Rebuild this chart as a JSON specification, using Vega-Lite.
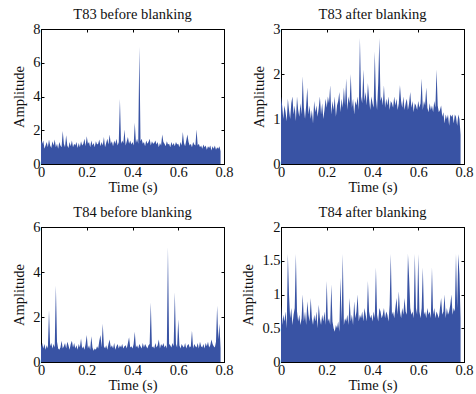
{
"$schema":"https://vega.github.io/schema/vega-lite/v6.json",
"padding":{"left":11,"top":6,"right":0,"bottom":0},
"config":{
 "font":"Liberation Serif, DejaVu Serif, serif",
 "view":{"stroke":"#000","strokeWidth":1},
 "axis":{"domainColor":"#000","tickColor":"#000","tickSize":-3,"labelFont":"Liberation Serif, DejaVu Serif, serif","labelFontSize":14.5,"labelColor":"#111","titleFont":"Liberation Serif, DejaVu Serif, serif","titleFontSize":14.5,"titleFontWeight":"normal","titleColor":"#111","grid":false,"labelPadding":4,"labelFlush":false,"labelOverlap":false},
 "axisY":{"titlePadding":6},
 "axisX":{"titlePadding":2},
 "title":{"font":"Liberation Serif, DejaVu Serif, serif","fontSize":14.5,"fontWeight":"normal","color":"#111","offset":-1}
},
"data":{"values":[
{"t":0,"p1":1.5,"p2":1.5,"p3":0.65,"p4":0.85},
{"t":0.005,"p1":1.2,"p2":1.3,"p3":0.85,"p4":0.55},
{"t":0.01,"p1":1.4,"p2":1.0,"p3":0.6,"p4":0.7},
{"t":0.015,"p1":0.9,"p2":1.3,"p3":0.8,"p4":0.6},
{"t":0.02,"p1":1.1,"p2":1.15,"p3":0.55,"p4":0.75},
{"t":0.025,"p1":1.3,"p2":0.95,"p3":0.75,"p4":0.5},
{"t":0.03,"p1":1.0,"p2":1.45,"p3":0.6,"p4":1.6},
{"t":0.035,"p1":1.45,"p2":1.2,"p3":2.3,"p4":1.0},
{"t":0.04,"p1":1.1,"p2":1.0,"p3":0.7,"p4":0.65},
{"t":0.045,"p1":0.95,"p2":1.35,"p3":0.85,"p4":0.8},
{"t":0.05,"p1":1.35,"p2":1.5,"p3":0.6,"p4":0.55},
{"t":0.055,"p1":1.1,"p2":1.1,"p3":0.8,"p4":0.7},
{"t":0.06,"p1":1.45,"p2":1.3,"p3":0.65,"p4":0.8},
{"t":0.065,"p1":1.0,"p2":0.95,"p3":3.4,"p4":1.6},
{"t":0.07,"p1":1.2,"p2":1.5,"p3":0.9,"p4":0.75},
{"t":0.075,"p1":0.9,"p2":1.2,"p3":0.6,"p4":0.6},
{"t":0.08,"p1":1.3,"p2":1.05,"p3":0.55,"p4":0.7},
{"t":0.085,"p1":1.1,"p2":1.35,"p3":0.65,"p4":0.55},
{"t":0.09,"p1":1.0,"p2":1.1,"p3":0.95,"p4":0.65},
{"t":0.095,"p1":1.95,"p2":1.95,"p3":0.6,"p4":1.0},
{"t":0.1,"p1":1.2,"p2":1.25,"p3":0.7,"p4":0.6},
{"t":0.105,"p1":1.0,"p2":1.0,"p3":0.85,"p4":0.75},
{"t":0.11,"p1":1.7,"p2":1.3,"p3":0.6,"p4":0.55},
{"t":0.115,"p1":1.1,"p2":1.7,"p3":0.9,"p4":0.9},
{"t":0.12,"p1":0.95,"p2":1.1,"p3":0.75,"p4":0.7},
{"t":0.125,"p1":1.3,"p2":1.3,"p3":0.55,"p4":0.6},
{"t":0.13,"p1":1.05,"p2":1.0,"p3":0.8,"p4":0.95},
{"t":0.135,"p1":1.4,"p2":1.2,"p3":0.95,"p4":0.65},
{"t":0.14,"p1":1.0,"p2":0.9,"p3":0.65,"p4":0.55},
{"t":0.145,"p1":1.2,"p2":1.4,"p3":0.85,"p4":0.7},
{"t":0.15,"p1":1.1,"p2":1.15,"p3":0.6,"p4":0.6},
{"t":0.155,"p1":1.3,"p2":1.3,"p3":0.75,"p4":0.75},
{"t":0.16,"p1":0.95,"p2":1.05,"p3":0.55,"p4":0.5},
{"t":0.165,"p1":1.25,"p2":1.25,"p3":0.8,"p4":0.85},
{"t":0.17,"p1":1.0,"p2":1.5,"p3":0.65,"p4":0.65},
{"t":0.175,"p1":1.35,"p2":1.1,"p3":1.05,"p4":0.55},
{"t":0.18,"p1":1.1,"p2":1.35,"p3":0.6,"p4":0.7},
{"t":0.185,"p1":1.2,"p2":1.0,"p3":0.7,"p4":0.6},
{"t":0.19,"p1":1.5,"p2":1.2,"p3":0.55,"p4":0.75},
{"t":0.195,"p1":1.05,"p2":1.45,"p3":0.8,"p4":0.55},
{"t":0.2,"p1":1.65,"p2":1.25,"p3":1.2,"p4":1.2},
{"t":0.205,"p1":1.2,"p2":1.5,"p3":0.6,"p4":0.6},
{"t":0.21,"p1":1.3,"p2":1.35,"p3":0.75,"p4":0.65},
{"t":0.215,"p1":1.0,"p2":1.75,"p3":0.55,"p4":0.55},
{"t":0.22,"p1":1.4,"p2":1.1,"p3":1.15,"p4":1.15},
{"t":0.225,"p1":1.1,"p2":1.4,"p3":0.65,"p4":0.6},
{"t":0.23,"p1":1.25,"p2":1.2,"p3":0.5,"p4":0.5},
{"t":0.235,"p1":1.0,"p2":1.5,"p3":0.6,"p4":0.45},
{"t":0.24,"p1":1.35,"p2":1.05,"p3":0.55,"p4":0.55},
{"t":0.245,"p1":1.15,"p2":1.3,"p3":0.7,"p4":0.5},
{"t":0.25,"p1":1.2,"p2":1.4,"p3":0.6,"p4":0.6},
{"t":0.255,"p1":1.45,"p2":1.6,"p3":0.95,"p4":0.45},
{"t":0.26,"p1":1.05,"p2":1.15,"p3":1.2,"p4":1.25},
{"t":0.265,"p1":1.3,"p2":1.45,"p3":0.65,"p4":0.6},
{"t":0.27,"p1":1.1,"p2":1.25,"p3":1.7,"p4":1.6},
{"t":0.275,"p1":1.6,"p2":1.7,"p3":0.7,"p4":0.55},
{"t":0.28,"p1":1.0,"p2":1.3,"p3":0.6,"p4":0.65},
{"t":0.285,"p1":1.25,"p2":1.9,"p3":0.75,"p4":0.6},
{"t":0.29,"p1":1.5,"p2":1.2,"p3":0.55,"p4":0.7},
{"t":0.295,"p1":1.15,"p2":1.5,"p3":0.8,"p4":0.55},
{"t":0.3,"p1":1.75,"p2":1.35,"p3":1.0,"p4":0.95},
{"t":0.305,"p1":1.2,"p2":2.0,"p3":0.65,"p4":0.6},
{"t":0.31,"p1":1.35,"p2":1.25,"p3":0.75,"p4":0.7},
{"t":0.315,"p1":1.05,"p2":1.45,"p3":0.6,"p4":0.55},
{"t":0.32,"p1":1.4,"p2":1.1,"p3":0.85,"p4":0.9},
{"t":0.325,"p1":1.2,"p2":1.4,"p3":0.55,"p4":0.65},
{"t":0.33,"p1":1.5,"p2":1.3,"p3":0.7,"p4":0.75},
{"t":0.335,"p1":1.1,"p2":1.5,"p3":0.8,"p4":1.0},
{"t":0.34,"p1":1.3,"p2":1.2,"p3":0.6,"p4":0.6},
{"t":0.345,"p1":3.85,"p2":2.8,"p3":0.75,"p4":0.7},
{"t":0.35,"p1":1.2,"p2":1.5,"p3":0.65,"p4":0.65},
{"t":0.355,"p1":1.4,"p2":1.35,"p3":0.8,"p4":0.75},
{"t":0.36,"p1":1.25,"p2":2.1,"p3":0.6,"p4":0.6},
{"t":0.365,"p1":2.05,"p2":1.4,"p3":0.7,"p4":0.8},
{"t":0.37,"p1":1.1,"p2":1.6,"p3":0.75,"p4":0.7},
{"t":0.375,"p1":1.35,"p2":1.3,"p3":0.6,"p4":0.6},
{"t":0.38,"p1":1.6,"p2":1.8,"p3":0.85,"p4":1.2},
{"t":0.385,"p1":1.2,"p2":1.45,"p3":1.1,"p4":0.75},
{"t":0.39,"p1":1.4,"p2":1.2,"p3":0.65,"p4":0.65},
{"t":0.395,"p1":1.15,"p2":1.5,"p3":0.7,"p4":0.7},
{"t":0.4,"p1":1.3,"p2":1.35,"p3":0.6,"p4":0.6},
{"t":0.405,"p1":1.1,"p2":1.25,"p3":0.8,"p4":0.75},
{"t":0.41,"p1":2.45,"p2":2.5,"p3":1.35,"p4":0.65},
{"t":0.415,"p1":1.25,"p2":1.45,"p3":0.65,"p4":1.4},
{"t":0.42,"p1":1.5,"p2":1.2,"p3":0.75,"p4":0.7},
{"t":0.425,"p1":1.2,"p2":1.8,"p3":0.6,"p4":0.6},
{"t":0.43,"p1":6.95,"p2":2.8,"p3":0.8,"p4":0.8},
{"t":0.435,"p1":1.35,"p2":1.4,"p3":0.7,"p4":0.75},
{"t":0.44,"p1":1.5,"p2":1.5,"p3":0.6,"p4":0.65},
{"t":0.445,"p1":1.2,"p2":1.3,"p3":0.85,"p4":0.7},
{"t":0.45,"p1":1.3,"p2":1.75,"p3":0.65,"p4":0.8},
{"t":0.455,"p1":1.05,"p2":1.25,"p3":0.8,"p4":0.65},
{"t":0.46,"p1":1.4,"p2":1.45,"p3":0.7,"p4":0.75},
{"t":0.465,"p1":1.2,"p2":1.3,"p3":0.6,"p4":0.7},
{"t":0.47,"p1":1.3,"p2":1.5,"p3":0.75,"p4":0.6},
{"t":0.475,"p1":1.5,"p2":1.2,"p3":0.8,"p4":0.85},
{"t":0.48,"p1":1.1,"p2":1.4,"p3":2.65,"p4":1.6},
{"t":0.485,"p1":1.35,"p2":1.35,"p3":0.65,"p4":0.7},
{"t":0.49,"p1":1.2,"p2":1.25,"p3":0.7,"p4":0.75},
{"t":0.495,"p1":1.25,"p2":1.5,"p3":0.6,"p4":0.65},
{"t":0.5,"p1":1.4,"p2":1.3,"p3":0.85,"p4":0.8},
{"t":0.505,"p1":1.15,"p2":1.45,"p3":0.65,"p4":0.95},
{"t":0.51,"p1":1.3,"p2":1.2,"p3":0.75,"p4":0.7},
{"t":0.515,"p1":1.0,"p2":1.35,"p3":1.0,"p4":1.05},
{"t":0.52,"p1":1.25,"p2":1.75,"p3":0.6,"p4":0.75},
{"t":0.525,"p1":1.1,"p2":1.4,"p3":0.8,"p4":0.65},
{"t":0.53,"p1":1.75,"p2":1.25,"p3":0.7,"p4":0.8},
{"t":0.535,"p1":1.3,"p2":1.5,"p3":0.85,"p4":0.7},
{"t":0.54,"p1":1.2,"p2":1.2,"p3":0.65,"p4":0.95},
{"t":0.545,"p1":1.05,"p2":1.35,"p3":0.75,"p4":0.75},
{"t":0.55,"p1":1.35,"p2":1.45,"p3":0.6,"p4":0.7},
{"t":0.555,"p1":1.15,"p2":1.2,"p3":5.1,"p4":1.6},
{"t":0.56,"p1":1.2,"p2":1.35,"p3":0.8,"p4":1.25},
{"t":0.565,"p1":1.0,"p2":1.6,"p3":0.75,"p4":0.8},
{"t":0.57,"p1":1.3,"p2":1.25,"p3":0.65,"p4":0.7},
{"t":0.575,"p1":1.1,"p2":1.4,"p3":0.85,"p4":0.75},
{"t":0.58,"p1":1.25,"p2":1.15,"p3":0.7,"p4":0.65},
{"t":0.585,"p1":1.05,"p2":1.35,"p3":3.1,"p4":1.6},
{"t":0.59,"p1":1.3,"p2":1.3,"p3":0.8,"p4":0.8},
{"t":0.595,"p1":1.15,"p2":1.2,"p3":0.65,"p4":0.7},
{"t":0.6,"p1":1.2,"p2":1.4,"p3":1.9,"p4":1.6},
{"t":0.605,"p1":1.0,"p2":1.25,"p3":0.75,"p4":0.75},
{"t":0.61,"p1":1.3,"p2":1.35,"p3":0.6,"p4":0.65},
{"t":0.615,"p1":1.1,"p2":1.9,"p3":0.8,"p4":0.8},
{"t":0.62,"p1":1.9,"p2":1.2,"p3":0.7,"p4":1.4},
{"t":0.625,"p1":1.25,"p2":1.4,"p3":0.65,"p4":0.7},
{"t":0.63,"p1":1.05,"p2":1.3,"p3":0.85,"p4":0.75},
{"t":0.635,"p1":1.4,"p2":1.7,"p3":0.6,"p4":0.65},
{"t":0.64,"p1":1.75,"p2":1.25,"p3":0.75,"p4":0.8},
{"t":0.645,"p1":1.3,"p2":1.15,"p3":0.8,"p4":0.7},
{"t":0.65,"p1":1.1,"p2":1.35,"p3":0.65,"p4":0.75},
{"t":0.655,"p1":1.2,"p2":1.2,"p3":0.7,"p4":0.65},
{"t":0.66,"p1":1.0,"p2":1.3,"p3":1.4,"p4":1.4},
{"t":0.665,"p1":1.3,"p2":1.15,"p3":0.6,"p4":0.7},
{"t":0.67,"p1":1.15,"p2":1.4,"p3":0.8,"p4":0.8},
{"t":0.675,"p1":1.1,"p2":1.25,"p3":0.7,"p4":0.65},
{"t":0.68,"p1":2.05,"p2":2.1,"p3":0.65,"p4":0.75},
{"t":0.685,"p1":1.1,"p2":1.3,"p3":0.85,"p4":0.7},
{"t":0.69,"p1":1.2,"p2":1.15,"p3":0.6,"p4":0.65},
{"t":0.695,"p1":1.0,"p2":1.2,"p3":0.9,"p4":0.8},
{"t":0.7,"p1":1.1,"p2":1.3,"p3":0.7,"p4":0.95},
{"t":0.705,"p1":0.9,"p2":1.05,"p3":0.65,"p4":0.7},
{"t":0.71,"p1":1.15,"p2":1.15,"p3":0.8,"p4":0.75},
{"t":0.715,"p1":1.0,"p2":0.9,"p3":0.6,"p4":1.0},
{"t":0.72,"p1":1.1,"p2":1.1,"p3":0.85,"p4":0.65},
{"t":0.725,"p1":0.85,"p2":1.0,"p3":0.7,"p4":0.8},
{"t":0.73,"p1":1.05,"p2":1.1,"p3":0.9,"p4":0.7},
{"t":0.735,"p1":0.95,"p2":0.85,"p3":0.65,"p4":0.75},
{"t":0.74,"p1":1.1,"p2":1.1,"p3":0.75,"p4":0.85},
{"t":0.745,"p1":0.8,"p2":1.05,"p3":1.0,"p4":1.0},
{"t":0.75,"p1":1.05,"p2":1.1,"p3":0.8,"p4":0.7},
{"t":0.755,"p1":0.9,"p2":0.9,"p3":0.7,"p4":0.8},
{"t":0.76,"p1":1.1,"p2":1.1,"p3":0.65,"p4":0.75},
{"t":0.765,"p1":0.85,"p2":1.05,"p3":0.9,"p4":1.6},
{"t":0.77,"p1":1.0,"p2":0.85,"p3":2.5,"p4":0.8},
{"t":0.775,"p1":0.9,"p2":1.1,"p3":1.0,"p4":1.6},
{"t":0.78,"p1":1.05,"p2":1.0,"p3":1.7,"p4":1.3},
{"t":0.785,"p1":0.75,"p2":0.65,"p3":0.6,"p4":0.65}
]},
"vconcat":[
 {"hconcat":[
  {"width":183,"height":135,"title":"T83 before blanking",
   "layer":[
    {"mark":{"type":"area","color":"#3953a4"},
     "encoding":{
      "x":{"field":"t","type":"quantitative","scale":{"domain":[0,0.8],"nice":false},"axis":{"values":[0,0.2,0.4,0.6,0.8],"format":"~g","title":"Time (s)"}},
      "y":{"field":"p1","type":"quantitative","scale":{"domain":[0,8],"nice":false},"axis":{"values":[0,2,4,6,8],"format":"~g","title":"Amplitude"}}}},
    {"mark":{"type":"point","opacity":0},
     "encoding":{
      "x":{"field":"t","type":"quantitative","axis":{"orient":"top","values":[0,0.2,0.4,0.6,0.8],"labels":false,"title":null}},
      "y":{"field":"p1","type":"quantitative","axis":{"orient":"right","values":[0,2,4,6,8],"labels":false,"title":null}}}}
   ],
   "resolve":{"axis":{"x":"independent","y":"independent"}}},
  {"width":183,"height":135,"title":"T83 after blanking",
   "layer":[
    {"mark":{"type":"area","color":"#3953a4"},
     "encoding":{
      "x":{"field":"t","type":"quantitative","scale":{"domain":[0,0.8],"nice":false},"axis":{"values":[0,0.2,0.4,0.6,0.8],"format":"~g","title":"Time (s)"}},
      "y":{"field":"p2","type":"quantitative","scale":{"domain":[0,3],"nice":false},"axis":{"values":[0,1,2,3],"format":"~g","title":"Amplitude"}}}},
    {"mark":{"type":"point","opacity":0},
     "encoding":{
      "x":{"field":"t","type":"quantitative","axis":{"orient":"top","values":[0,0.2,0.4,0.6,0.8],"labels":false,"title":null}},
      "y":{"field":"p2","type":"quantitative","axis":{"orient":"right","values":[0,1,2,3],"labels":false,"title":null}}}}
   ],
   "resolve":{"axis":{"x":"independent","y":"independent"}}}
 ],"spacing":17},
 {"hconcat":[
  {"width":183,"height":135,"title":"T84 before blanking",
   "layer":[
    {"mark":{"type":"area","color":"#3953a4"},
     "encoding":{
      "x":{"field":"t","type":"quantitative","scale":{"domain":[0,0.8],"nice":false},"axis":{"values":[0,0.2,0.4,0.6,0.8],"format":"~g","title":"Time (s)"}},
      "y":{"field":"p3","type":"quantitative","scale":{"domain":[0,6],"nice":false},"axis":{"values":[0,2,4,6],"format":"~g","title":"Amplitude"}}}},
    {"mark":{"type":"point","opacity":0},
     "encoding":{
      "x":{"field":"t","type":"quantitative","axis":{"orient":"top","values":[0,0.2,0.4,0.6,0.8],"labels":false,"title":null}},
      "y":{"field":"p3","type":"quantitative","axis":{"orient":"right","values":[0,2,4,6],"labels":false,"title":null}}}}
   ],
   "resolve":{"axis":{"x":"independent","y":"independent"}}},
  {"width":183,"height":135,"title":"T84 after blanking",
   "layer":[
    {"mark":{"type":"area","color":"#3953a4"},
     "encoding":{
      "x":{"field":"t","type":"quantitative","scale":{"domain":[0,0.8],"nice":false},"axis":{"values":[0,0.2,0.4,0.6,0.8],"format":"~g","title":"Time (s)"}},
      "y":{"field":"p4","type":"quantitative","scale":{"domain":[0,2],"nice":false},"axis":{"values":[0,0.5,1,1.5,2],"format":"~g","title":"Amplitude"}}}},
    {"mark":{"type":"point","opacity":0},
     "encoding":{
      "x":{"field":"t","type":"quantitative","axis":{"orient":"top","values":[0,0.2,0.4,0.6,0.8],"labels":false,"title":null}},
      "y":{"field":"p4","type":"quantitative","axis":{"orient":"right","values":[0,0.5,1,1.5,2],"labels":false,"title":null}}}}
   ],
   "resolve":{"axis":{"x":"independent","y":"independent"}}}
 ],"spacing":6}
],
"spacing":9
}
